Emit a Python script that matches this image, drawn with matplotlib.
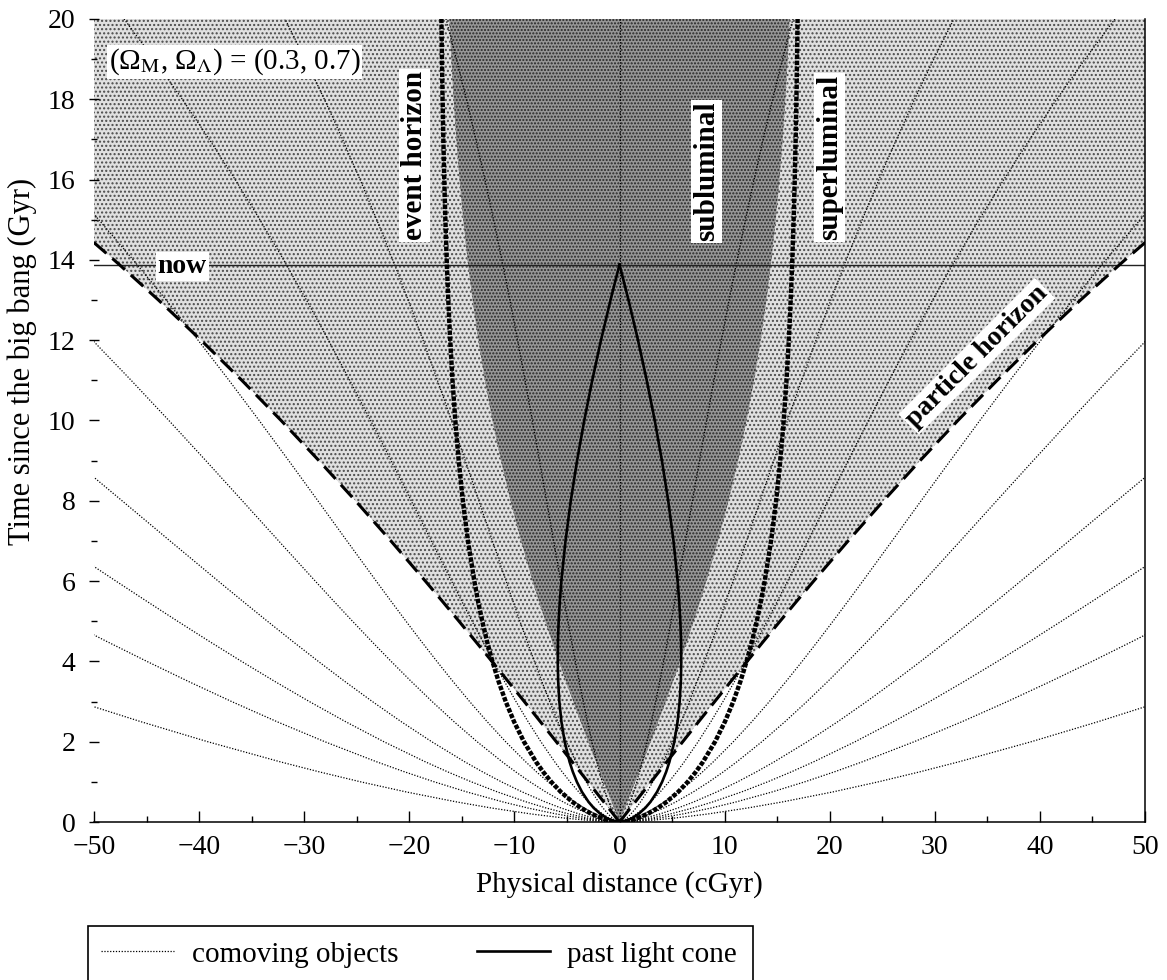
import numpy as np
import matplotlib
matplotlib.use("Agg")
import matplotlib.pyplot as plt
from matplotlib.lines import Line2D
from matplotlib.patches import Rectangle

plt.rcParams['font.family'] = ['Liberation Serif', 'DejaVu Serif']
plt.rcParams['mathtext.fontset'] = 'stix'
plt.rcParams['hatch.linewidth'] = 1.0

# ---- data (Gyr / cGyr) ----
t_gyr = [0, 0.02, 0.05, 0.1, 0.2, 0.35, 0.5, 0.75, 1, 1.25, 1.5, 2, 2.5, 3, 3.5, 4,
         4.5, 5, 5.5, 6, 7, 8, 9, 10, 11, 12, 13, 13.883, 14, 15, 16, 17, 18, 19, 20, 20.5]
scale_factor = [0, 0.01092, 0.02011, 0.03193, 0.05069, 0.07361, 0.09338, 0.12240, 0.14833,
                0.17220, 0.19457, 0.23605, 0.27444, 0.31062, 0.34518, 0.37851, 0.41088,
                0.44253, 0.47363, 0.50432, 0.56494, 0.62518, 0.68568, 0.74695, 0.80944,
                0.87356, 0.93967, 1.0, 1.00814, 1.07930, 1.15348, 1.23101, 1.31222,
                1.39744, 1.48701, 1.53353]
hubble_sphere = [0, 0.030, 0.075, 0.150, 0.300, 0.525, 0.750, 1.123, 1.496, 1.868, 2.237,
                 2.970, 3.692, 4.400, 5.093, 5.768, 6.424, 7.059, 7.671, 8.260, 9.366,
                 10.371, 11.277, 12.085, 12.800, 13.428, 13.976, 14.400, 14.452, 14.863,
                 15.217, 15.521, 15.780, 16.001, 16.189, 16.272]
particle_horizon = [0, 0.060, 0.150, 0.300, 0.600, 1.050, 1.500, 2.251, 3.002, 3.754, 4.507,
                    6.017, 7.534, 9.059, 10.593, 12.139, 13.698, 15.272, 16.862, 18.471,
                    21.749, 25.120, 28.597, 32.196, 35.931, 39.815, 43.866, 47.593, 48.098,
                    52.528, 57.172, 62.048, 67.173, 72.568, 78.251, 81.207]
event_horizon = [0, 0.639, 1.138, 1.744, 2.645, 3.662, 4.478, 5.585, 6.494, 7.270, 7.949,
                 9.094, 10.035, 10.827, 11.505, 12.092, 12.606, 13.058, 13.459, 13.815,
                 14.418, 14.904, 15.299, 15.623, 15.889, 16.109, 16.291, 16.426, 16.442,
                 16.568, 16.673, 16.760, 16.833, 16.894, 16.945, 16.968]
light_cone = [0, 0.460, 0.807, 1.220, 1.812, 2.453, 2.944, 3.574, 4.057, 4.441, 4.753,
              5.217, 5.527, 5.725, 5.835, 5.875, 5.857, 5.789, 5.679, 5.531, 5.138, 4.635,
              4.036, 3.354, 2.593, 1.760, 0.856, 0.000]
comoving_dist = [0, 11.1, 21.4, 31.7, 45.9, 57.4, 75.7, 95.0, 118.8, 166.0]
t_now = 13.883

t = np.array(t_gyr)
a = np.array(scale_factor)
DH = np.array(hubble_sphere)
Dp = np.array(particle_horizon)
De = np.array(event_horizon)
Dlc = np.array(light_cone)
t_lc = t[:len(Dlc)]

fig = plt.figure(figsize=(11.67, 9.8), dpi=100)
ax = fig.add_axes([94/1167, 1-822/980, (1145-94)/1167, (822-19)/980])
ax.set_xlim(-50, 50)
ax.set_ylim(0, 20)

# stippled regions
ax.fill_betweenx(t, -Dp, Dp, facecolor='#e0e0e0', edgecolor='#4a4a4a', hatch='....',
                 linewidth=0, zorder=1)
ax.fill_betweenx(t, -DH, DH, facecolor='#979797', edgecolor='#262626', hatch='.....',
                 linewidth=0, zorder=2)

# comoving worldlines
dot = (0, (1.0, 1.3))
for chi in comoving_dist:
    ax.plot(chi * a, t, color='black', lw=0.9, ls=dot, zorder=3)
    if chi > 0:
        ax.plot(-chi * a, t, color='black', lw=0.9, ls=dot, zorder=3)

# horizons and light cone
for s in (1, -1):
    ax.plot(s * Dlc, t_lc, color='black', lw=1.9, zorder=5)
    ax.plot(s * De, t, color='black', lw=3.2, ls=(0, (1.0, 0.35)), zorder=5)
    ax.plot(s * Dp, t, color='black', lw=2.2, ls=(0, (5.5, 2.6)), zorder=5)

ax.axhline(t_now, color='#222222', lw=1.0, zorder=4)

wbox = dict(facecolor='white', edgecolor='none', pad=1.5)
ax.text(-41.6, 13.67, 'now', ha='center', va='baseline', bbox=wbox,
        fontsize=20, fontweight='bold', zorder=6)
for x, y, s in [(-19.5, 16.6, 'event horizon'), (8.3, 16.2, 'subluminal'),
                (20.0, 16.55, 'superluminal')]:
    ax.text(x, y, s, rotation=90, ha='center', va='center', bbox=wbox,
            fontsize=21, fontweight='bold', zorder=6)
ax.text(34.0, 11.6, 'particle horizon', rotation=45, rotation_mode='anchor',
        ha='center', va='center', bbox=wbox, fontsize=20, fontweight='bold', zorder=6)
ax.text(-48.6, 18.93, '(\u03a9$_{\\rm M}$, \u03a9$_{\\Lambda}$) = (0.3, 0.7)', fontsize=21,
        ha='left', va='center', bbox=dict(facecolor='white', edgecolor='none', pad=1.0),
        zorder=6)

# axes styling
for side in ('left', 'top'):
    ax.spines[side].set_visible(False)
for side in ('bottom', 'right'):
    ax.spines[side].set_linewidth(1.1)
    ax.spines[side].set_zorder(7)
ax.set_xticks(np.arange(-50, 51, 10))
ax.set_xticks(np.arange(-45, 50, 10), minor=True)
ax.set_yticks(np.arange(0, 21, 2))
ax.set_yticks(np.arange(1, 20, 2), minor=True)
ax.set_xticklabels(['\u221250', '\u221240', '\u221230', '\u221220', '\u221210', '0',
                    '10', '20', '30', '40', '50'])
ax.tick_params(axis='x', which='major', direction='in', length=8, width=1.0, pad=9,
               labelsize=20)
ax.tick_params(axis='x', which='minor', direction='in', length=4, width=1.0)
ax.tick_params(axis='y', which='major', direction='inout', length=6.5, width=1.0, pad=10,
               labelsize=20)
ax.tick_params(axis='y', which='minor', direction='inout', length=4.3, width=1.0)
ax.set_xlabel('Physical distance (cGyr)', fontsize=21, labelpad=8)
ax.set_ylabel('Time since the big bang (Gyr)', fontsize=22)
ax.yaxis.set_label_coords(-0.054, 0.573)

# legend: box runs past the lower figure edge, only the first row is visible
fig.patches.append(Rectangle((88/1167, -0.05), (753-88)/1167, (1-926/980) + 0.05,
                             transform=fig.transFigure, fill=False, edgecolor='black',
                             lw=1.2, zorder=10))
handles = [Line2D([], [], color='black', lw=0.9, ls=dot),
           Line2D([], [], color='black', lw=1.9)]
labels = ['comoving objects', 'past light cone']
fig.legend(handles, labels, ncol=2, loc='upper left',
           bbox_to_anchor=(88/1167, 1-928/980), fontsize=21, frameon=False,
           handlelength=2.5, handletextpad=0.6, columnspacing=2.7, borderpad=0.45,
           borderaxespad=0)

fig.savefig('out.png', dpi=100)
